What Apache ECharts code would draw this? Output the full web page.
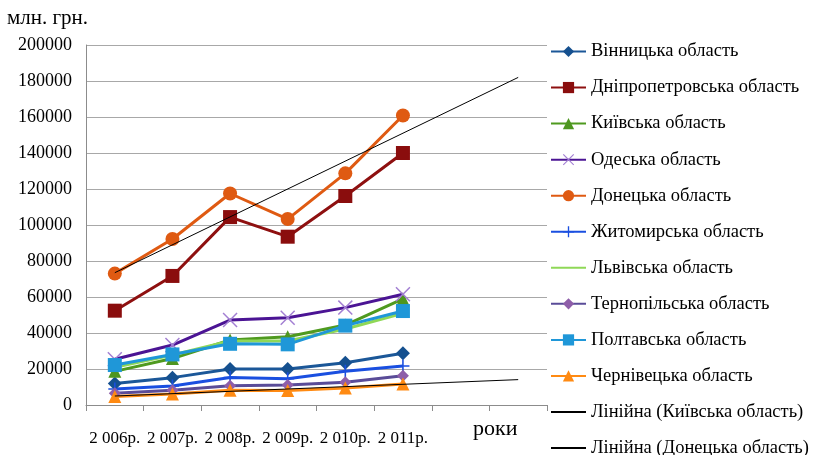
<!DOCTYPE html>
<html><head><meta charset="utf-8">
<script src="https://cdn.jsdelivr.net/npm/echarts@6/dist/echarts.min.js"></script>
<style>html,body{margin:0;padding:0;background:#fff}#c{width:814px;height:455px}</style>
</head><body><div id="c"></div>
<script>
const categories = ['2 006р.', '2 007р.', '2 008р.', '2 009р.', '2 010р.', '2 011р.', '', ''];
const yTicks = [0, 20000, 40000, 60000, 80000, 100000, 120000, 140000, 160000, 180000, 200000];
const vinnytsia   = [12000, 15200, 20000, 20000, 23500, 28700];
const dnipro      = [52400, 71700, 104400, 93500, 116100, 140000];
const kyiv        = [18700, 25800, 36100, 37900, 44400, 58900];
const odesa       = [25400, 33300, 47200, 48500, 54100, 61500];
const donetsk     = [73000, 92200, 117500, 103300, 128700, 160800];
const zhytomyr    = [8900, 10600, 15300, 14600, 18700, 21700];
const lviv        = [21000, 27800, 35600, 35600, 42200, 51000];
const ternopil    = [6500, 8200, 10700, 11100, 12600, 16300];
const poltava     = [22200, 28100, 34000, 33700, 44100, 52200];
const chernivtsi  = [4700, 6100, 8200, 8000, 9400, 11700];
const trendKyiv    = [5000, null, null, null, null, null, null, 14100];
const trendDonetsk = [73500, null, null, null, null, null, null, 182000];

const FONT = 'Liberation Serif';
const X_SYM = 'path://M0,0.7L0.7,0L5,4.3L9.3,0L10,0.7L5.7,5L10,9.3L9.3,10L5,5.7L0.7,10L0,9.3L4.3,5Z';
const PLUS_SYM = 'path://M4.4,0H5.6V4.4H10V5.6H5.6V10H4.4V5.6H0V4.4H4.4Z';

function s(name, data, line, mark, symbol, size) {
  return {
    name, type: 'line', data,
    symbol: symbol || 'none', symbolSize: size || 0,
    lineStyle: { color: line, width: 3 },
    itemStyle: { color: mark || line },
    emphasis: { disabled: true },
    animation: false
  };
}
const series = [
  s('Вінницька область', vinnytsia, '#1b5798', '#15508f', 'diamond', 14),
  s('Дніпропетровська область', dnipro, '#8e1010', '#8a0d0d', 'rect', 14),
  s('Київська область', kyiv, '#4f9a1f', '#4e9620', 'triangle', 13),
  s('Одеська область', odesa, '#4b1494', '#a37fd3', X_SYM, 15),
  s('Донецька область', donetsk, '#df5a12', '#df5a12', 'circle', 14),
  s('Житомирська область', zhytomyr, '#1a4fe0', '#1a4fe0', PLUS_SYM, 13),
  s('Львівська область', lviv, '#8fd857', '#8fd857', 'none', 0),
  s('Тернопільська область', ternopil, '#5a4c98', '#8e5ea9', 'diamond', 12),
  s('Полтавська область', poltava, '#1f97d8', '#1f97d8', 'rect', 14),
  s('Чернівецька область', chernivtsi, '#ff8a12', '#ff8a12', 'triangle', 13),
  { name: 'Лінійна (Київська область)', type: 'line', data: trendKyiv, connectNulls: true, symbol: 'none',
    lineStyle: { color: '#000', width: 1 }, itemStyle: { color: '#000' }, animation: false, z: 5 },
  { name: 'Лінійна (Донецька область)', type: 'line', data: trendDonetsk, connectNulls: true, symbol: 'none',
    lineStyle: { color: '#000', width: 1 }, itemStyle: { color: '#000' }, animation: false, z: 5 }
];
const noMarker = new Set(['Львівська область', 'Лінійна (Київська область)', 'Лінійна (Донецька область)']);
const legendData = series.map(x => noMarker.has(x.name)
  ? { name: x.name, itemStyle: { opacity: 0 } }
  : { name: x.name });

const chart = echarts.init(document.getElementById('c'), null, { renderer: 'canvas' });
chart.setOption({
  backgroundColor: '#fff',
  textStyle: { fontFamily: FONT },
  title: [
    { text: 'млн. грн.', left: 7, top: 8, padding: 0, textStyle: { fontFamily: FONT, fontSize: 21, fontWeight: 'normal', color: '#000' } },
    { text: 'роки', left: 473, top: 418, padding: 0, textStyle: { fontFamily: FONT, fontSize: 22, fontWeight: 'normal', color: '#000' } }
  ],
  grid: { left: 86, right: 267, top: 45, bottom: 50, containLabel: false },
  legend: {
    orient: 'vertical', left: 550, top: 42, height: 450, padding: 0, itemWidth: 35, itemHeight: 14, itemGap: 17.05,
    textStyle: { fontFamily: FONT, fontSize: 18.5, color: '#000' },
    selectedMode: false,
    data: legendData
  },
  xAxis: {
    type: 'category', data: categories, boundaryGap: true,
    axisLine: { lineStyle: { color: '#8c8c8c', width: 1 } },
    axisTick: { show: true, interval: 0, length: 6, lineStyle: { color: '#8c8c8c' } },
    axisLabel: { interval: 0, margin: 25, fontFamily: FONT, fontSize: 17, color: '#000' }
  },
  yAxis: {
    type: 'value', min: yTicks[0], max: yTicks[yTicks.length - 1], interval: yTicks[1] - yTicks[0],
    axisLine: { show: true, lineStyle: { color: '#8c8c8c', width: 1 } },
    axisTick: { show: false },
    splitLine: { lineStyle: { color: '#a8a8a8', width: 1 } },
    axisLabel: { margin: 14, fontFamily: FONT, fontSize: 18, color: '#000', formatter: v => String(v) }
  },
  series
});
</script></body></html>
